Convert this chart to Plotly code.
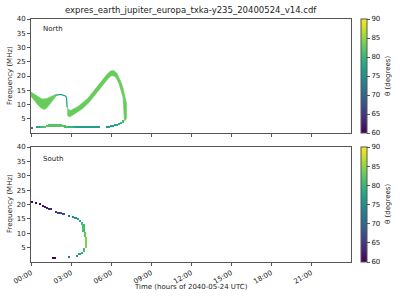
import plotly.graph_objects as go
from plotly.colors import sample_colorscale

# ---------------- data ----------------
# North: main emission band, part A (before the dip), time in hours, frequency in MHz
bandA_t = [0.00, 0.15, 0.30, 0.45, 0.60, 0.75, 0.90, 1.05, 1.20, 1.35, 1.50, 1.65, 1.80, 1.90]
bandA_lo = [12.8, 12.1, 11.2, 10.2, 9.4, 8.8, 8.4, 8.3, 8.9, 9.8, 10.8, 11.8, 12.6, 13.1]
bandA_hi = [14.4, 13.9, 13.4, 12.9, 12.5, 12.1, 11.9, 11.9, 12.1, 12.5, 12.9, 13.2, 13.4, 13.5]
bandA_theta = 83

# North: thin ridge between the two parts of the band
ridge_t = [1.85, 2.00, 2.15, 2.30, 2.45, 2.58, 2.66, 2.71]
ridge_f = [13.3, 13.5, 13.5, 13.45, 13.3, 13.0, 12.5, 9.0]
ridge_theta = 77

# North: main emission band, part C (rising arc and its descent)
bandC_t = [2.72, 2.85, 3.00, 3.15, 3.30, 3.45, 3.60, 3.75, 3.90, 4.05,
           4.20, 4.35, 4.50, 4.65, 4.80, 4.95, 5.10, 5.25, 5.40, 5.55,
           5.70, 5.85, 6.00, 6.15, 6.30, 6.45, 6.60, 6.75, 6.90, 7.00,
           7.10, 7.18]
bandC_lo = [6.3, 5.7, 5.9, 6.3, 6.8, 7.2, 7.6, 8.2, 8.7, 9.3,
            9.9, 10.7, 11.6, 12.5, 13.4, 14.3, 15.2, 16.1, 17.0, 17.9,
            18.8, 19.5, 20.0, 20.1, 19.8, 18.8, 17.2, 15.0, 12.5, 4.2,
            4.6, 5.5]
bandC_hi = [9.0, 8.0, 8.0, 8.3, 8.7, 9.1, 9.6, 10.1, 10.7, 11.3,
            11.9, 12.7, 13.6, 14.5, 15.5, 16.4, 17.3, 18.2, 19.0, 19.9,
            20.6, 21.3, 21.8, 21.9, 21.6, 20.9, 19.6, 17.8, 15.8, 13.0,
            11.5, 10.0]
bandC_theta = 83

# North: low-frequency branch (time bins of 0.15 h)
north_low_t = [0.05, 0.45, 0.60, 0.75, 0.90, 1.05, 1.20, 1.35, 1.50, 1.65,
               1.80, 1.95, 2.10, 2.25, 2.40, 2.55, 2.70, 2.85, 3.00, 3.15,
               3.30, 3.45, 3.60, 3.75, 3.90, 4.05, 4.20, 4.35, 4.50, 4.65,
               4.80, 4.95, 5.10, 5.70, 5.85, 6.00, 6.15, 6.30, 6.45, 6.60,
               6.75, 6.90]
north_low_lo = [1.5, 1.9, 1.9, 2.0, 2.0, 2.1, 2.1, 2.2, 2.2, 2.2,
                2.2, 2.2, 2.2, 2.1, 2.1, 2.0, 2.0, 2.0, 1.9, 1.9,
                1.8, 1.8, 1.8, 1.8, 1.8, 1.8, 1.8, 1.8, 1.8, 1.8,
                1.8, 1.8, 1.8, 2.0, 2.0, 2.3, 2.3, 2.6, 2.6, 3.1,
                3.3, 3.6]
north_low_hi = [1.9, 2.3, 2.3, 2.4, 2.5, 2.6, 2.8, 3.0, 3.1, 3.2,
                3.3, 3.3, 3.2, 3.1, 2.9, 2.7, 2.5, 2.4, 2.3, 2.3,
                2.2, 2.2, 2.2, 2.2, 2.2, 2.2, 2.2, 2.2, 2.2, 2.2,
                2.2, 2.2, 2.2, 2.4, 2.4, 2.7, 2.7, 3.0, 3.0, 3.6,
                3.9, 4.5]
north_low_theta = [73, 77, 78, 80, 81, 82, 82, 82, 82, 82,
                   82, 82, 82, 82, 82, 81, 81, 80, 80, 79,
                   78, 77, 77, 77, 77, 77, 77, 77, 77, 77,
                   77, 77, 77, 77, 77, 77, 77, 78, 78, 79,
                   80, 81]

# South: sparse emission
south_t = [0.08, 0.38, 0.68, 0.90, 1.05, 1.20, 1.35, 1.50, 1.65, 1.80,
           1.90, 2.08, 2.23, 2.45, 2.85, 2.85, 3.15, 3.35, 3.45, 3.55,
           3.65, 3.70, 3.83, 3.85, 3.95, 4.02, 4.05, 4.15]
south_lo = [20.6, 20.3, 19.9, 19.4, 19.1, 18.7, 18.4, 18.2, 1.1, 1.1,
            17.3, 17.0, 16.8, 16.5, 15.9, 1.4, 15.6, 15.2, 2.0, 14.8,
            2.5, 14.2, 3.1, 13.2, 10.6, 3.6, 8.8, 4.8]
south_hi = [21.0, 20.7, 20.3, 19.8, 19.5, 19.1, 18.8, 18.6, 1.5, 1.5,
            17.7, 17.4, 17.2, 16.9, 16.3, 1.8, 16.0, 15.6, 2.4, 15.2,
            2.9, 14.6, 3.6, 13.8, 13.2, 4.8, 10.6, 8.8]
south_theta = [60, 60, 61, 61, 62, 62, 63, 63, 60, 60,
               65, 66, 66, 67, 71, 71, 73, 75, 75, 77,
               77, 78, 79, 80, 81, 81, 82, 84]

tick_hours = [0, 3, 6, 9, 12, 15, 18, 21]
tick_labels = ["00:00", "03:00", "06:00", "09:00", "12:00", "15:00", "18:00", "21:00"]
freq_ticks = [5, 10, 15, 20, 25, 30, 35, 40]
theta_ticks = [60, 65, 70, 75, 80, 85, 90]
theta_min, theta_max = 60, 90

title_text = "expres_earth_jupiter_europa_txka-y235_20400524_v14.cdf"

# ---------------- layout geometry (pixels) ----------------
W, H = 400, 300
L, R, T, B = 31, 351, 19, 262
PW, PH = R - L, B - T


def px(x):
    return (x - L) / PW


def py(y):
    return (B - y) / PH


TOP_Y0, TOP_Y1 = py(133), py(19)
BOT_Y0, BOT_Y1 = py(262), py(147)

FONT = "DejaVu Sans"
TXT = "#222222"
LINE = "#555555"


def vcolor(theta):
    return sample_colorscale("Viridis", [(theta - theta_min) / (theta_max - theta_min)])[0]


fig = go.Figure()


def add_band(t, lo, hi, theta):
    c = vcolor(theta)
    fig.add_trace(go.Scatter(x=t, y=lo, mode="lines", line=dict(width=0.6, color=c),
                             xaxis="x2", yaxis="y2", showlegend=False, hoverinfo="skip"))
    fig.add_trace(go.Scatter(x=t, y=hi, mode="lines", line=dict(width=0.6, color=c),
                             fill="tonexty", fillcolor=c,
                             xaxis="x2", yaxis="y2", showlegend=False, hoverinfo="skip"))


def add_bars(t, lo, hi, theta, width, xa, ya, cax):
    fig.add_trace(go.Bar(
        x=t, base=lo, y=[h - l for l, h in zip(lo, hi)], width=width,
        marker=dict(color=theta, coloraxis=cax, line=dict(width=0)),
        xaxis=xa, yaxis=ya, showlegend=False, hoverinfo="skip"))


add_band(bandA_t, bandA_lo, bandA_hi, bandA_theta)
add_band(bandC_t, bandC_lo, bandC_hi, bandC_theta)
fig.add_trace(go.Scatter(x=ridge_t, y=ridge_f, mode="lines",
                         line=dict(width=1.3, color=vcolor(ridge_theta)),
                         xaxis="x2", yaxis="y2", showlegend=False, hoverinfo="skip"))
add_bars(north_low_t, north_low_lo, north_low_hi, north_low_theta, 0.155, "x2", "y2", "coloraxis")
add_bars(south_t, south_lo, south_hi, south_theta, 0.13, "x", "y", "coloraxis2")

axis_common = dict(showline=True, linecolor=LINE, linewidth=1, mirror=True,
                   ticks="outside", ticklen=3, tickcolor=LINE, tickwidth=1,
                   showgrid=False, zeroline=False,
                   tickfont=dict(family=FONT, size=7, color=TXT))

xrange = [0, 23.99]


def cbar(y_top, length):
    return dict(x=px(361), xanchor="left", y=y_top, yanchor="top", len=length,
                lenmode="fraction", thickness=6, xpad=0, ypad=0,
                tickvals=theta_ticks, ticks="outside", ticklen=3, tickcolor=LINE,
                tickfont=dict(family=FONT, size=7, color=TXT),
                outlinewidth=1, outlinecolor=LINE)


fig.update_layout(
    width=W, height=H, autosize=False,
    margin=dict(l=L, r=W - R, t=T, b=H - B, pad=0),
    paper_bgcolor="white", plot_bgcolor="white",
    barmode="overlay", bargap=0,
    font=dict(family=FONT, size=7, color=TXT),
    xaxis=dict(domain=[0, 1], anchor="y", range=xrange, tickvals=tick_hours,
               ticktext=tick_labels, tickangle=-30, **axis_common),
    yaxis=dict(domain=[BOT_Y0, BOT_Y1], anchor="x", range=[0, 40], tickvals=freq_ticks, **axis_common),
    xaxis2=dict(domain=[0, 1], anchor="y2", range=xrange, tickvals=tick_hours,
                showticklabels=False, **axis_common),
    yaxis2=dict(domain=[TOP_Y0, TOP_Y1], anchor="x2", range=[0, 40], tickvals=freq_ticks, **axis_common),
    coloraxis=dict(colorscale="Viridis", cmin=theta_min, cmax=theta_max,
                   colorbar=cbar(TOP_Y1, TOP_Y1 - TOP_Y0)),
    coloraxis2=dict(colorscale="Viridis", cmin=theta_min, cmax=theta_max,
                    colorbar=cbar(BOT_Y1, BOT_Y1 - BOT_Y0)),
)


def note(text, x, y, size=7, angle=0):
    fig.add_annotation(text=text, x=px(x), y=py(y), xref="paper", yref="paper",
                       showarrow=False, textangle=angle, xanchor="center", yanchor="middle",
                       font=dict(family=FONT, size=size, color=TXT))


note(title_text, 191, 10, size=8.5)
note("North", 53, 29)
note("South", 53, 159)
note("Frequency (MHz)", 10, 76, angle=-90)
note("Frequency (MHz)", 10, 204, angle=-90)
note("θ (degrees)", 388, 76, angle=-90)
note("θ (degrees)", 388, 204, angle=-90)
note("Time (hours of 2040-05-24 UTC)", 191, 287)

fig.write_html("out.html")
